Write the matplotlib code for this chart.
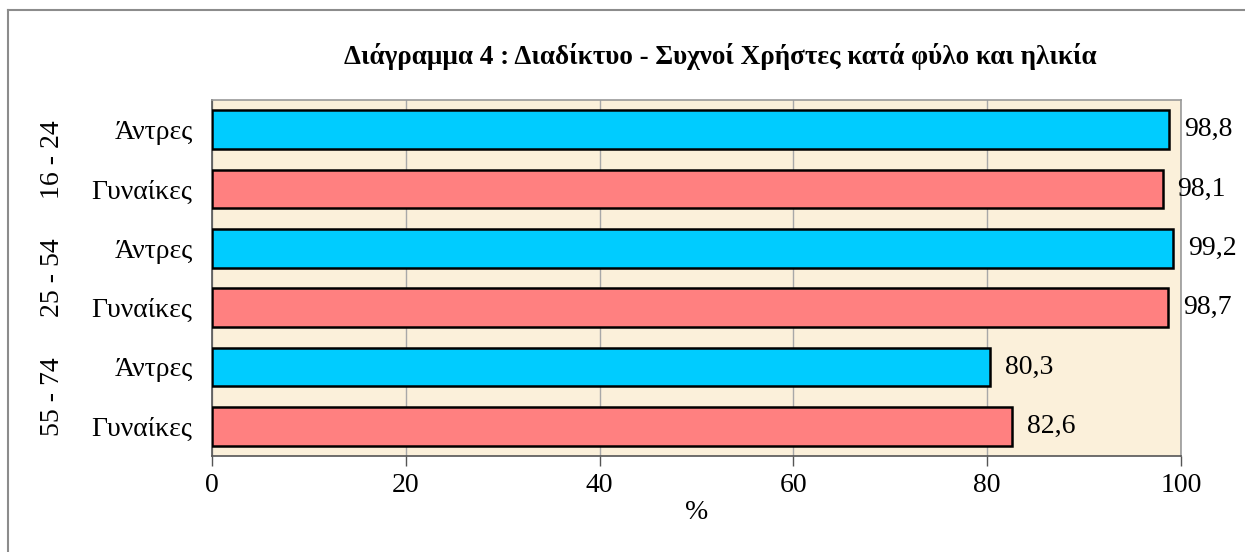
import matplotlib.pyplot as plt
import matplotlib.transforms as mtransforms
import numpy as np

plt.rcParams["font.family"] = ["Liberation Serif", "DejaVu Serif"]

TITLE = "Διάγραμμα 4 : Διαδίκτυο - Συχνοί Χρήστες κατά φύλο και ηλικία"
age_groups = ["16 - 24", "25 - 54", "55 - 74"]
sexes = ["Άντρες", "Γυναίκες"]
men = [98.8, 99.2, 80.3]
women = [98.1, 98.7, 82.6]
value_labels_men = ["98,8", "99,2", "80,3"]
value_labels_women = ["98,1", "98,7", "82,6"]
xticks = [0, 20, 40, 60, 80, 100]

BLUE = "#00CCFF"
RED = "#FF8080"
BG = "#FBF0DA"
FS = 20

fig = plt.figure(figsize=(12.45, 5.52), dpi=100)
ax = fig.add_axes([212 / 1245, 1 - 456 / 552, (1181 - 212) / 1245, (456 - 100) / 552])
ax.set_facecolor(BG)

# outer chart border (left and top visible)
fig.add_artist(plt.Line2D([8 / 1245, 8 / 1245], [0, 1 - 10 / 552], color="#8c8c8c", lw=1.5,
                          transform=fig.transFigure))
fig.add_artist(plt.Line2D([8 / 1245, 1], [1 - 10 / 552, 1 - 10 / 552], color="#8c8c8c", lw=1.5,
                          transform=fig.transFigure))

n = len(age_groups)
values, colors, labels, texts = [], [], [], []
for i in range(n):
    values += [men[i], women[i]]
    colors += [BLUE, RED]
    labels += sexes
    texts += [value_labels_men[i], value_labels_women[i]]
y = np.arange(len(values))[::-1]

ax.barh(y, values, height=0.65, color=colors, edgecolor="black", linewidth=1.8, zorder=3)
for yi, v, t in zip(y, values, texts):
    ax.text(v + 1.5, yi, t, va="center", ha="left", fontsize=FS, zorder=4)

ax.set_xlim(0, 100)
ax.set_ylim(-0.5, len(values) - 0.5)
ax.set_xticks(xticks)
ax.set_xticklabels([str(t) for t in xticks], fontsize=FS)
ax.set_yticks(y)
ax.set_yticklabels(labels, fontsize=FS)
ax.tick_params(axis="y", length=0, pad=14)
ax.tick_params(axis="x", length=7, width=1, color="#555555", pad=5)
ax.grid(axis="x", color="#a8a8a8", linewidth=1, zorder=1)
ax.set_axisbelow(True)
for side in ("top", "right"):
    ax.spines[side].set_color("#999999")
    ax.spines[side].set_linewidth(1.2)
ax.spines["left"].set_color("#555555")
ax.spines["bottom"].set_color("#555555")
ax.spines["left"].set_linewidth(1.2)
ax.spines["bottom"].set_linewidth(1.2)
ax.set_xlabel("%", fontsize=FS, labelpad=2)

# group labels, rotated, left of category names
trans = mtransforms.blended_transform_factory(fig.transFigure, ax.transData)
for i, g in enumerate(age_groups):
    yc = (y[2 * i] + y[2 * i + 1]) / 2
    ax.text(52 / 1245, yc, g, rotation=90, ha="center", va="center",
            fontsize=FS, transform=trans)

fig.text(720 / 1245, 1 - 56 / 552, TITLE, ha="center", va="center",
         fontsize=19.5, fontweight="bold")

fig.savefig("out.png", dpi=100)
